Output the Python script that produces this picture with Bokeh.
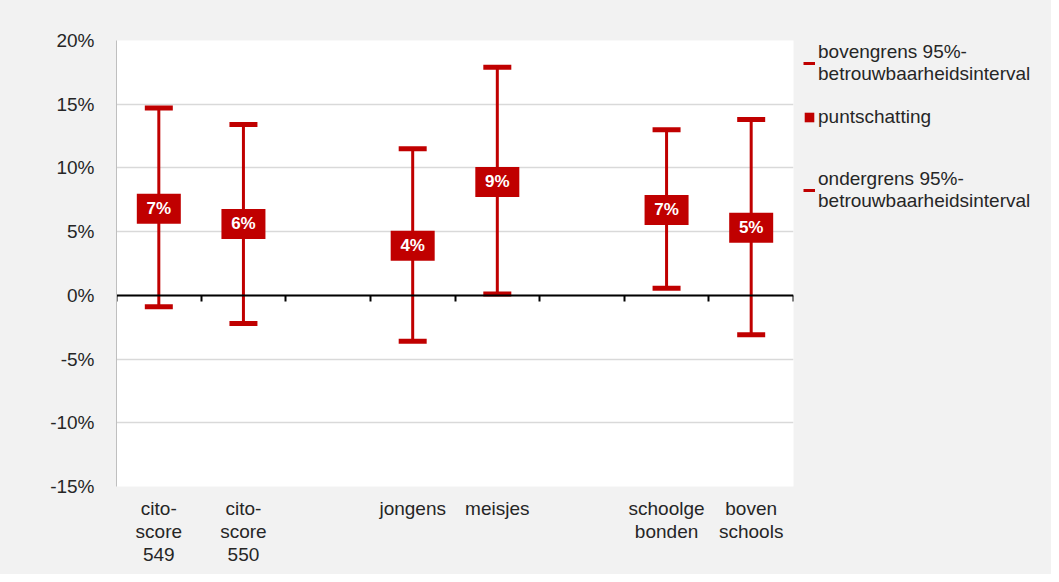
from bokeh.plotting import figure
from bokeh.layouts import row
from bokeh.models import (Range1d, LinearAxis, FixedTicker, PrintfTickFormatter,
                          Legend, LegendItem, ColumnDataSource)
from bokeh.embed import file_html
from bokeh.resources import INLINE
from bokeh.core.properties import value

# ---- data ----
groups = ["cito-\nscore\n549", "cito-\nscore\n550", "jongens", "meisjes",
          "schoolge\nbonden", "boven\nschools"]
upper = [14.7, 13.4, 11.5, 17.9, 13.0, 13.8]
point = [6.8, 5.6, 3.9, 8.9, 6.7, 5.3]
lower = [-0.9, -2.2, -3.6, 0.1, 0.55, -3.1]
point_labels = ["7%", "6%", "4%", "9%", "7%", "5%"]
y_ticks = [-15, -10, -5, 0, 5, 10, 15, 20]
legend_labels = ["bovengrens 95%-\nbetrouwbaarheidsinterval", "puntschatting",
                 "ondergrens 95%-\nbetrouwbaarheidsinterval"]

# category slots with empty separators between the groups
slots = groups[0:2] + [""] + groups[2:4] + [""] + groups[4:6]

RED = "#c00000"
FONT = "Liberation Sans"
TXT = "#262626"
BG = "#f2f2f2"

centers = [i + 0.5 for i in range(len(slots))]
xpos = [c for c, s in zip(centers, slots) if s]

src = ColumnDataSource(dict(x=xpos, up=upper, pt=point, lo=lower, lab=point_labels))

p = figure(width=800, height=574, output_backend="svg", toolbar_location=None,
           x_range=Range1d(0, len(slots)),
           y_range=Range1d(y_ticks[0], y_ticks[-1]),
           min_border_left=116, min_border_right=7, min_border_top=40, min_border_bottom=88)
p.border_fill_color = BG
p.background_fill_color = "white"
p.outline_line_color = None

# y axis
p.yaxis.ticker = FixedTicker(ticks=y_ticks)
p.yaxis.formatter = PrintfTickFormatter(format="%d%%")
p.yaxis.axis_line_color = "#bfbfbf"
p.yaxis.major_tick_line_color = None
p.yaxis.minor_tick_line_color = None
p.yaxis.major_label_text_font = FONT
p.yaxis.major_label_text_font_size = "19px"
p.yaxis.major_label_text_color = TXT
p.yaxis.major_label_standoff = 16

# x axis (category labels only)
p.xaxis.ticker = FixedTicker(ticks=centers)
p.xaxis.major_label_overrides = {c: s for c, s in zip(centers, slots)}
p.xaxis.axis_line_color = None
p.xaxis.major_tick_line_color = None
p.xaxis.minor_tick_line_color = None
p.xaxis.major_label_text_font = FONT
p.xaxis.major_label_text_font_size = "19px"
p.xaxis.major_label_text_color = TXT
p.xaxis.major_label_text_line_height = 1.1
p.xaxis.major_label_standoff = 5

p.xgrid.grid_line_color = None
p.ygrid.grid_line_color = "#d9d9d9"
p.ygrid.grid_line_width = 1.5

# zero axis with ticks at category boundaries
zero_axis = LinearAxis(fixed_location=0,
                       ticker=FixedTicker(ticks=list(range(len(slots) + 1))),
                       major_label_text_font_size="0px", major_tick_in=0, major_tick_out=6,
                       major_tick_line_width=2, axis_line_width=2,
                       minor_tick_line_color=None)
p.add_layout(zero_axis, "below")

# error bars
p.segment(x0="x", y0="lo", x1="x", y1="up", source=src, line_color=RED, line_width=3)
p.scatter(x="x", y="up", source=src, marker="dash", size=28, line_width=5, line_color=RED)
p.scatter(x="x", y="lo", source=src, marker="dash", size=28, line_width=5, line_color=RED)
p.rect(x="x", y="pt", width=44, height=30, width_units="screen", height_units="screen",
       source=src, fill_color=RED, line_color=None)
p.text(x="x", y="pt", text="lab", source=src, text_color="white", text_font=value(FONT),
       text_font_style="bold", text_font_size="17px", text_align="center", text_baseline="middle")

# ---- legend panel on the right ----
LW, LH = 251, 574
q = figure(width=LW, height=LH, output_backend="svg", toolbar_location=None,
           x_range=Range1d(0, 1), y_range=Range1d(0, 1),
           x_axis_location=None, y_axis_location=None, min_border=0)
q.border_fill_color = BG
q.background_fill_color = BG
q.outline_line_color = None
q.grid.grid_line_color = None

nan = float("nan")
up_proxy = q.line(x=[nan], y=[nan], line_color=RED, line_width=3)
pt_proxy = q.rect(x=[nan], y=[nan], width=1, height=1, fill_color=RED, line_color=None)
lo_proxy = q.line(x=[nan], y=[nan], line_color=RED, line_width=3)

for label, rend, loc in zip(legend_labels, [up_proxy, pt_proxy, lo_proxy],
                            [(3, 401), (3, 358), (3, 274)]):
    lg = Legend(items=[LegendItem(label=label, renderers=[rend])], location=loc)
    lg.label_text_font = FONT
    lg.label_text_font_size = "19px"
    lg.label_text_color = TXT
    lg.background_fill_alpha = 0
    lg.border_line_color = None
    lg.glyph_width = 12
    lg.glyph_height = 12
    lg.label_standoff = 3
    lg.margin = 0
    lg.padding = 0
    q.add_layout(lg)

layout = row(p, q, spacing=0, styles={"background-color": BG})
open("out.html", "w").write(file_html(layout, INLINE))
